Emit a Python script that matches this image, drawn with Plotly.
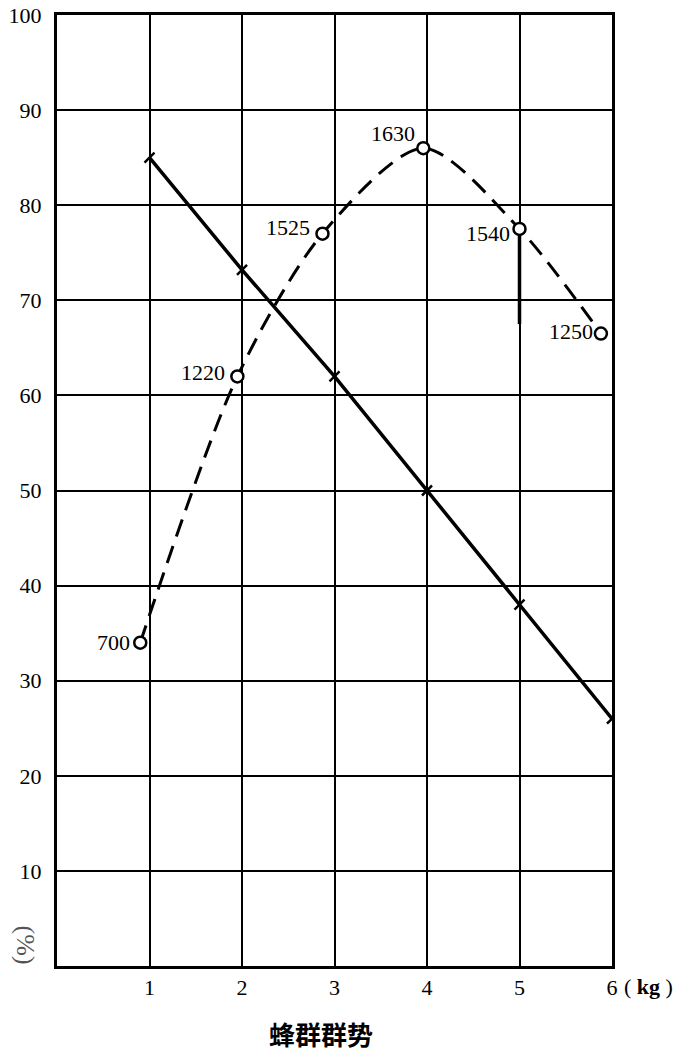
import plotly.graph_objects as go

# Solid line: brood (%) vs colony strength (kg)
solid_x = [1, 2, 3, 4, 5, 6]
solid_y = [85, 73.2, 62, 50, 38, 26]

# Dashed curve: yield labels
dash_x = [0.9, 1.95, 2.87, 3.96, 5.0, 5.88]
dash_y = [34, 62, 77, 86, 77.5, 66.5]
dash_labels = ["700", "1220", "1525", "1630", "1540", "1250"]

# Short heavy vertical stroke below the 1540 point
stroke_x = [5.0, 5.0]
stroke_y = [77.5, 67.5]

x_ticks = [1, 2, 3, 4, 5, 6]
y_ticks = [10, 20, 30, 40, 50, 60, 70, 80, 90, 100]

serif = "Liberation Serif"

fig = go.Figure()

fig.add_trace(go.Scatter(
    x=stroke_x, y=stroke_y, mode="lines",
    line=dict(color="black", width=3.5),
    showlegend=False, hoverinfo="skip"))

fig.add_trace(go.Scatter(
    x=solid_x, y=solid_y, mode="lines+markers",
    line=dict(color="black", width=3.5),
    marker=dict(symbol="line-ne", size=10, line=dict(color="black", width=2.5)),
    showlegend=False, hoverinfo="skip"))

fig.add_trace(go.Scatter(
    x=dash_x, y=dash_y, mode="lines",
    line=dict(color="black", width=3, dash="18px,10px", shape="spline", smoothing=0.8),
    showlegend=False, hoverinfo="skip"))

fig.add_trace(go.Scatter(
    x=dash_x, y=dash_y, mode="markers",
    marker=dict(symbol="circle", size=12, color="white",
                line=dict(color="black", width=2.5)),
    showlegend=False, hoverinfo="skip"))

shifts = [(-8, 0), (-10, 4), (-10, 6), (-6, 15), (-8, -5), (-6, 2)]
for x, y, t, (xs, ys) in zip(dash_x, dash_y, dash_labels, shifts):
    fig.add_annotation(x=x, y=y, text=t, showarrow=False, xanchor="right",
                       yanchor="middle", xshift=xs, yshift=ys,
                       font=dict(family=serif, size=22, color="black"))

fig.add_annotation(xref="paper", yref="paper", x=1.0, y=0, xanchor="left",
                   yanchor="top", xshift=10, yshift=-6, showarrow=False,
                   text="( <b>kg</b> )", font=dict(family=serif, size=22, color="black"))

fig.add_annotation(xref="paper", yref="paper", x=0, y=0.022, xanchor="right",
                   yanchor="middle", xshift=-15, showarrow=False, textangle=90,
                   text="(%)", font=dict(family=serif, size=26, color="#555"))

fig.add_annotation(xref="paper", yref="paper", x=0.476, y=0, xanchor="center",
                   yanchor="top", yshift=-47, showarrow=False,
                   text="<b>蜂群群势</b>",
                   font=dict(family="Noto Sans CJK SC", size=26, color="black"))

fig.update_xaxes(range=[0, 6], tickvals=x_ticks, ticktext=[str(v) for v in x_ticks],
                 showgrid=True, gridcolor="black", gridwidth=2,
                 showline=True, linecolor="black", linewidth=3, mirror=True,
                 ticks="", ticklabelstandoff=0, zeroline=False, automargin=False,
                 tickfont=dict(family=serif, size=22, color="black"))
fig.update_yaxes(range=[0, 100], tickvals=y_ticks, ticktext=[str(v) for v in y_ticks],
                 showgrid=True, gridcolor="black", gridwidth=2,
                 showline=True, linecolor="black", linewidth=3, mirror=True,
                 ticks="", ticklabelstandoff=8, zeroline=False, automargin=False,
                 tickfont=dict(family=serif, size=22, color="black"))

fig.update_layout(width=691, height=1059,
                  margin=dict(l=57, r=79, t=15, b=93),
                  plot_bgcolor="white", paper_bgcolor="white")

fig.write_html("out.html", config={"displayModeBar": False},
               post_script="document.body.style.margin='0';document.body.style.overflow='hidden';")
